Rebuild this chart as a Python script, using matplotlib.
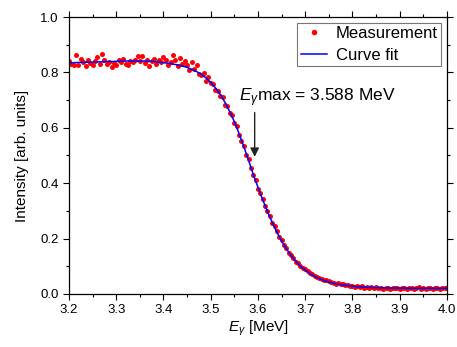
import numpy as np
import matplotlib
matplotlib.use("Agg")
import matplotlib.pyplot as plt

plt.rcParams['font.family'] = ['Liberation Sans', 'DejaVu Sans']
plt.rcParams['mathtext.fontset'] = 'custom'
plt.rcParams['mathtext.rm'] = 'Liberation Sans'
plt.rcParams['mathtext.it'] = 'Liberation Sans:italic'

# measured spectrum, 0.005 MeV steps from 3.200 to 4.000
e_meas = np.linspace(3.2, 4.0, 161)
i_meas = [
    0.840, 0.832, 0.825, 0.862, 0.826, 0.848, 0.836, 0.822, 0.845, 0.834,
    0.828, 0.841, 0.855, 0.832, 0.866, 0.845, 0.830, 0.838, 0.820, 0.833,
    0.826, 0.845, 0.838, 0.850, 0.832, 0.826, 0.842, 0.838, 0.846, 0.858,
    0.840, 0.858, 0.834, 0.846, 0.823, 0.841, 0.850, 0.832, 0.844, 0.836,
    0.855, 0.846, 0.828, 0.838, 0.861, 0.846, 0.824, 0.852, 0.832, 0.842,
    0.825, 0.810, 0.836, 0.812, 0.826, 0.793, 0.790, 0.796, 0.770, 0.782,
    0.762, 0.758, 0.738, 0.734, 0.714, 0.711, 0.683, 0.680, 0.655, 0.646,
    0.618, 0.606, 0.575, 0.552, 0.535, 0.502, 0.486, 0.455, 0.429, 0.411,
    0.380, 0.366, 0.343, 0.316, 0.300, 0.282, 0.256, 0.244, 0.226, 0.205,
    0.193, 0.175, 0.167, 0.149, 0.142, 0.131, 0.116, 0.112, 0.102, 0.095,
    0.089, 0.082, 0.074, 0.071, 0.066, 0.060, 0.058, 0.055, 0.050, 0.049,
    0.045, 0.042, 0.041, 0.037, 0.038, 0.034, 0.036, 0.031, 0.033, 0.028,
    0.029, 0.026, 0.030, 0.024, 0.027, 0.022, 0.026, 0.023, 0.025, 0.021,
    0.024, 0.020, 0.023, 0.019, 0.022, 0.021, 0.018, 0.023, 0.020, 0.022,
    0.019, 0.021, 0.023, 0.018, 0.020, 0.022, 0.019, 0.021, 0.024, 0.018,
    0.021, 0.019, 0.022, 0.020, 0.018, 0.023, 0.020, 0.019, 0.022, 0.020,
    0.021,
]

# fitted curve, 0.01 MeV steps
e_fit = np.linspace(3.2, 4.0, 81)
i_fit = [
    0.835, 0.835, 0.836, 0.836, 0.837, 0.837, 0.838, 0.838, 0.839, 0.839,
    0.840, 0.840, 0.841, 0.841, 0.841, 0.841, 0.841, 0.840, 0.839, 0.837,
    0.835, 0.833, 0.830, 0.827, 0.823, 0.818, 0.811, 0.803, 0.793, 0.780,
    0.764, 0.744, 0.721, 0.692, 0.659, 0.622, 0.579, 0.532, 0.483, 0.432,
    0.385, 0.340, 0.298, 0.259, 0.223, 0.191, 0.163, 0.139, 0.118, 0.100,
    0.086, 0.073, 0.063, 0.055, 0.048, 0.043, 0.038, 0.035, 0.032, 0.030,
    0.028, 0.026, 0.025, 0.024, 0.023, 0.023, 0.022, 0.022, 0.021, 0.021,
    0.021, 0.021, 0.020, 0.020, 0.020, 0.020, 0.020, 0.020, 0.020, 0.020,
    0.020,
]

e_max = 3.588

fig = plt.figure(figsize=(4.57, 3.47), dpi=100)
ax = fig.add_axes([0.151, 0.153, 0.827, 0.798])

ax.plot(e_meas, i_meas, 'o', color='#ff0000', ms=3.6, mew=0, label='Measurement')
ax.plot(e_fit, i_fit, '-', color='#0000ff', lw=1.1, label='Curve fit')

# arrow marking the edge position, label sits above it
ax.annotate('', xy=(e_max + 0.005, 0.495), xytext=(e_max + 0.005, 0.655),
            arrowprops=dict(arrowstyle='-|>', color='#222222', lw=1,
                            mutation_scale=13, shrinkA=0, shrinkB=0))
ax.text(3.56, 0.71, r'$E_{\gamma}$max = 3.588 MeV', fontsize=12.5, ha='left', va='center')

ax.set_xlim(3.2, 4.0)
ax.set_ylim(0, 1.0)
ax.set_xticks(np.arange(3.2, 4.01, 0.1))
ax.set_xticks(np.arange(3.25, 4.0, 0.1), minor=True)
ax.set_yticks(np.arange(0, 1.01, 0.2))
ax.set_yticks(np.arange(0.1, 1.0, 0.2), minor=True)
ax.tick_params(which='both', direction='out', top=True, right=True, labelsize=9.5, width=0.8)
ax.tick_params(which='major', length=4)
ax.tick_params(which='minor', length=2.5)
for s in ax.spines.values():
    s.set_linewidth(0.9)

ax.set_xlabel(r'$E_{\gamma}$ [MeV]', fontsize=11, labelpad=2)
ax.set_ylabel('Intensity [arb. units]', fontsize=11, labelpad=8)

leg = ax.legend(loc='upper right', fontsize=12, fancybox=False, edgecolor='#555555',
                handlelength=1.6, borderpad=0.2, labelspacing=0.4, handletextpad=0.5,
                borderaxespad=0.35, markerscale=1.1)
leg.get_frame().set_linewidth(0.8)

fig.savefig('out.png', dpi=100)
